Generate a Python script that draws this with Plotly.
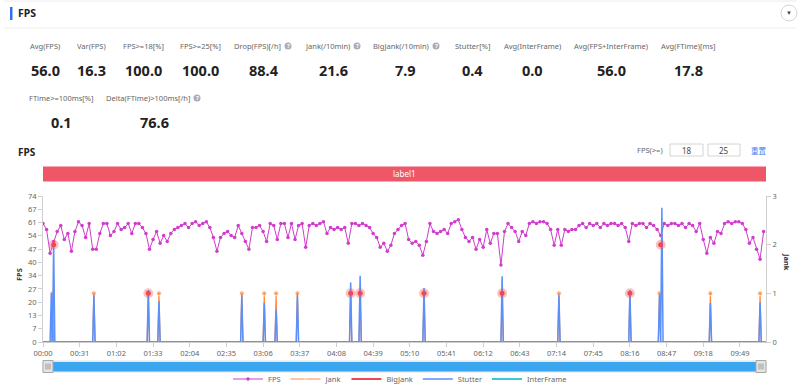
import plotly.graph_objects as go

W, H = 800, 385
def X(px): return px / W
def Y(py): return 1 - py / H

# ---------------- data ----------------
# FPS, one value every 3 s
fps_part1 = [60, 57, 45, 51, 56, 59, 52, 55, 46, 56,
             61, 59, 53, 60, 47, 47, 55, 60, 60, 54,
             56, 60, 57, 58, 60, 55, 60, 60, 58, 55,
             47, 52, 56, 50, 54, 51, 55, 57, 58, 59,
             60, 58, 60, 61, 59, 60, 61, 58, 53, 46]
fps_part2 = [53, 55, 56, 54, 53, 59, 55, 51, 47, 58,
             58, 59, 56, 51, 60, 59, 52, 60, 60, 53,
             60, 52, 59, 60, 48, 59, 60, 59, 60, 61,
             55, 58, 57, 58, 57, 58, 50, 60, 60, 59,
             60, 59, 58, 55, 53, 48, 50, 46, 49, 55]
fps_part3 = [57, 59, 60, 52, 50, 51, 49, 44, 51, 60,
             56, 55, 56, 57, 55, 60, 61, 62, 57, 53,
             51, 53, 47, 52, 48, 57, 50, 55, 55, 39,
             56, 60, 58, 56, 51, 56, 54, 60, 61, 60,
             61, 61, 60, 57, 49, 57, 49, 57, 56, 57]
fps_part4 = [57, 59, 60, 58, 60, 59, 60, 58, 60, 59,
             60, 60, 59, 60, 58, 51, 60, 59, 60, 60,
             58, 60, 59, 57, 54, 60, 59, 60, 60, 59,
             60, 58, 60, 59, 56, 60, 52, 45, 53, 50,
             56, 55, 60, 61, 60, 61, 61, 60, 57, 50,
             53, 47, 42, 56]
fps = fps_part1 + fps_part2 + fps_part3 + fps_part4
fps_step = 3
fps_t = [i * fps_step for i in range(len(fps))]
interframe = [0 for _ in fps]          # InterFrame is 0 all along
t_end = 611

jank_t = [8, 43, 89, 98, 168, 187, 197, 215, 260, 268, 322, 388, 436, 496, 521, 564, 606]
jank_v = [1, 1, 1, 1, 1, 1, 1, 1, 1, 1, 1, 1, 1, 1, 1, 1, 1]

stutter_t = [7, 9, 43, 89, 98, 168, 187, 197, 215, 260, 268, 322, 388, 436, 496, 521, 523, 564, 606]
stutter_v = [1.0, 2.0, 0.97, 1.07, 0.84, 0.97, 0.8, 0.66, 0.97, 1.22, 1.36, 1.11, 1.35, 0.97, 1.07,
             0.97, 2.76, 0.8, 0.81]

bigjank_t = [9, 89, 260, 268, 322, 388, 496, 522]
bigjank_v = [2, 1, 1, 1, 1, 1, 1, 2]

x_tick_vals = [0, 31, 62, 93, 124, 155, 186, 217, 248, 279, 310, 341, 372, 403, 434, 465, 496, 527, 558, 589]
x_tick_text = ["00:00", "00:31", "01:02", "01:33", "02:04", "02:35", "03:06", "03:37", "04:08", "04:39",
               "05:10", "05:41", "06:12", "06:43", "07:14", "07:45", "08:16", "08:47", "09:18", "09:49"]
y_tick_text = ["0", "7", "13", "20", "27", "34", "40", "47", "54", "61", "67", "74"]
y_max = 74
y2_tick_vals = [0, 1, 2, 3]

stat_labels_1 = ["Avg(FPS)", "Var(FPS)", "FPS>=18[%]", "FPS>=25[%]", "Drop(FPS)[/h]", "Jank(/10min)",
                 "BigJank(/10min)", "Stutter[%]", "Avg(InterFrame)", "Avg(FPS+InterFrame)", "Avg(FTime)[ms]"]
stat_values_1 = ["56.0", "16.3", "100.0", "100.0", "88.4", "21.6", "7.9", "0.4", "0.0", "56.0", "17.8"]
stat_labels_2 = ["FTime>=100ms[%]", "Delta(FTime)>100ms[/h]"]
stat_values_2 = ["0.1", "76.6"]

# ---------------- helpers ----------------
def spikes(ts, vs, end):
    xs, ys, ss = [0], [0], [0]
    for t, v in zip(ts, vs):
        xs += [t - 1, t, t + 1]
        ys += [0, v, 0]
        ss += [0, 5, 0]
    xs.append(end); ys.append(0); ss.append(0)
    return xs, ys, ss

FONT = "Noto Sans"
LBL = 7.5
VAL = 14.5
fig = go.Figure()

fig.add_trace(go.Scatter(x=fps_t, y=fps, name="FPS", mode="lines+markers",
                         line=dict(color="#d03ccc", width=1),
                         marker=dict(size=3.5, color="#d03ccc"), legendrank=1, yaxis="y"))
fig.add_trace(go.Scatter(x=fps_t, y=interframe, name="InterFrame", mode="lines",
                         line=dict(color="#3cc9d6", width=2), legendrank=5, yaxis="y2"))
jx, jy, js = spikes(jank_t, jank_v, t_end)
fig.add_trace(go.Scatter(x=jx, y=jy, name="Jank", mode="lines+markers",
                         line=dict(color="#ff8a3d", width=1.2),
                         marker=dict(size=js, color="#ff8a3d"), legendrank=2, yaxis="y2"))
sx, sy, _ = spikes(stutter_t, stutter_v, t_end)
fig.add_trace(go.Scatter(x=sx, y=sy, name="Stutter", mode="lines",
                         line=dict(color="#5b8ff9", width=1.5), legendrank=4, yaxis="y2"))
fig.add_trace(go.Scatter(x=bigjank_t, y=bigjank_v, name="BigJank", mode="markers",
                         marker=dict(size=5, color="#e8474f",
                                     line=dict(color="rgba(240,80,90,0.35)", width=5)),
                         showlegend=False, legendgroup="bj", yaxis="y2"))
fig.add_trace(go.Scatter(x=[None], y=[None], name="BigJank", mode="lines",
                         line=dict(color="#f04850", width=2), legendgroup="bj", legendrank=3,
                         yaxis="y2"))

# ---------------- shapes ----------------
shapes = []
def rect(x0, y0, x1, y1, fill=None, line=None, lw=1):
    shapes.append(dict(type="rect", xref="paper", yref="paper", x0=X(x0), x1=X(x1), y0=Y(y1), y1=Y(y0),
                       fillcolor=fill or "rgba(0,0,0,0)",
                       line=dict(color=line or "rgba(0,0,0,0)", width=lw if line else 0)))
def hline(x0, x1, y, color, w=1):
    shapes.append(dict(type="line", xref="paper", yref="paper", x0=X(x0), x1=X(x1), y0=Y(y), y1=Y(y),
                       line=dict(color=color, width=w)))
def vline(x, y0, y1, color, w=1):
    shapes.append(dict(type="line", xref="paper", yref="paper", x0=X(x), x1=X(x), y0=Y(y0), y1=Y(y1),
                       line=dict(color=color, width=w)))

hline(4, 796, 1, "#ececec")
hline(4, 796, 28, "#efefef")
rect(10, 7, 12.5, 20, fill="#2f6fed")
shapes.append(dict(type="circle", xref="paper", yref="paper", x0=X(781), x1=X(797), y0=Y(21), y1=Y(5),
                   line=dict(color="#d6d6d6", width=1), fillcolor="white"))
# info icons
icons = [(288, 46), (357, 46), (436, 46), (197, 98)]
for cx, cy in icons:
    shapes.append(dict(type="circle", xref="paper", yref="paper", x0=X(cx - 3.5), x1=X(cx + 3.5),
                       y0=Y(cy + 3.5), y1=Y(cy - 3.5), fillcolor="#a9adb8", line=dict(width=0)))
# inputs
rect(670, 144, 703, 156, line="#d4d4d4")
rect(708, 144, 740, 156, line="#d4d4d4")
# red label band
rect(43, 166.5, 766, 181.5, fill="#ef5768")
# range slider
rect(43, 361, 766, 372, fill="#f3f3f3", line="#e0e0e0")
rect(52, 362, 758, 371.5, fill="#3aa6ef")
for hx in (43, 756):
    rect(hx, 360.5, hx + 10, 372.5, fill="#e4e4e4", line="#a8a8a8")
    for k in (3, 5, 7):
        vline(hx + k, 363.5, 369.5, "#888", 0.8)

# ---------------- annotations ----------------
ann = []
def text(x, y, s, size=9, color="#666", anchor="center", bold=False, family=FONT, angle=0):
    ann.append(dict(x=X(x), y=Y(y), xref="paper", yref="paper", text=f"<b>{s}</b>" if bold else s,
                    showarrow=False, xanchor=anchor, yanchor="middle", textangle=angle,
                    font=dict(size=size, color=color, family=family)))

text(16, 13.5, "FPS", size=10.5, color="#222", anchor="left", bold=True)
text(789, 13.5, "▼", size=6, color="#444")

centers_1 = [45, 91, 143, 200, 264, 333, 406, 472, 532, 611, 688]
icon_after = {4: 288, 5: 357, 6: 436}
for i, (lab, val) in enumerate(zip(stat_labels_1, stat_values_1)):
    if i in icon_after:
        text(icon_after[i] - 5.5, 46, lab, size=LBL, anchor="right")
    else:
        text(centers_1[i], 46, lab, size=LBL)
    text(centers_1[i], 70, val, size=VAL, color="#222", bold=True)
centers_2 = [61, 154]
text(centers_2[0], 98, stat_labels_2[0], size=LBL)
text(197 - 5.5, 98, stat_labels_2[1], size=LBL, anchor="right")
for c, v in zip(centers_2, stat_values_2):
    text(c, 122, v, size=VAL, color="#222", bold=True)
for cx, cy in icons:
    text(cx, cy, "?", size=6, color="white", bold=True)

text(16, 152, "FPS", size=10, color="#222", anchor="left", bold=True)
text(665, 150, "FPS(>=)", size=7.5, anchor="right")
text(687, 150, "18", size=8, color="#444")
text(724, 150, "25", size=8, color="#444")
text(759, 150, "重置", size=7.5, color="#3d7ff5",
     family="Noto Sans CJK SC, Noto Sans CJK JP, sans-serif")
text(404, 174, "label1", size=8, color="white")
text(19, 275, "FPS", size=7.5, color="#333", bold=True, angle=-90)
text(787, 262, "Jank", size=7.5, color="#333", bold=True, angle=90)

axis_common = dict(showgrid=False, zeroline=False, showline=True, linecolor="#cfcfcf", linewidth=1,
                   ticks="outside", ticklen=4, tickcolor="#cfcfcf", automargin=False,
                   tickfont=dict(size=7.5, color="#666", family=FONT))

fig.update_layout(
    width=W, height=H, margin=dict(l=0, r=0, t=0, b=0, autoexpand=False),
    paper_bgcolor="white", plot_bgcolor="white",
    font=dict(family=FONT),
    xaxis=dict(domain=[X(43), X(766)], range=[0, t_end], tickmode="array",
               tickvals=x_tick_vals, ticktext=x_tick_text, **axis_common),
    yaxis=dict(domain=[Y(342), Y(196)], range=[0, y_max], tickmode="array",
               tickvals=[y_max * i / 11 for i in range(12)], ticktext=y_tick_text, **axis_common),
    yaxis2=dict(overlaying="y", side="right", anchor="x", range=[0, 3], tickmode="array",
                tickvals=y2_tick_vals, **axis_common),
    legend=dict(orientation="h", x=0.5, xanchor="center", y=Y(379), yanchor="middle",
                font=dict(size=7.5, color="#666"), itemwidth=30, bgcolor="rgba(0,0,0,0)"),
    shapes=shapes, annotations=ann, showlegend=True,
)

fig.write_html("out.html", config={"displayModeBar": False},
               post_script="document.body.style.margin='0';")
